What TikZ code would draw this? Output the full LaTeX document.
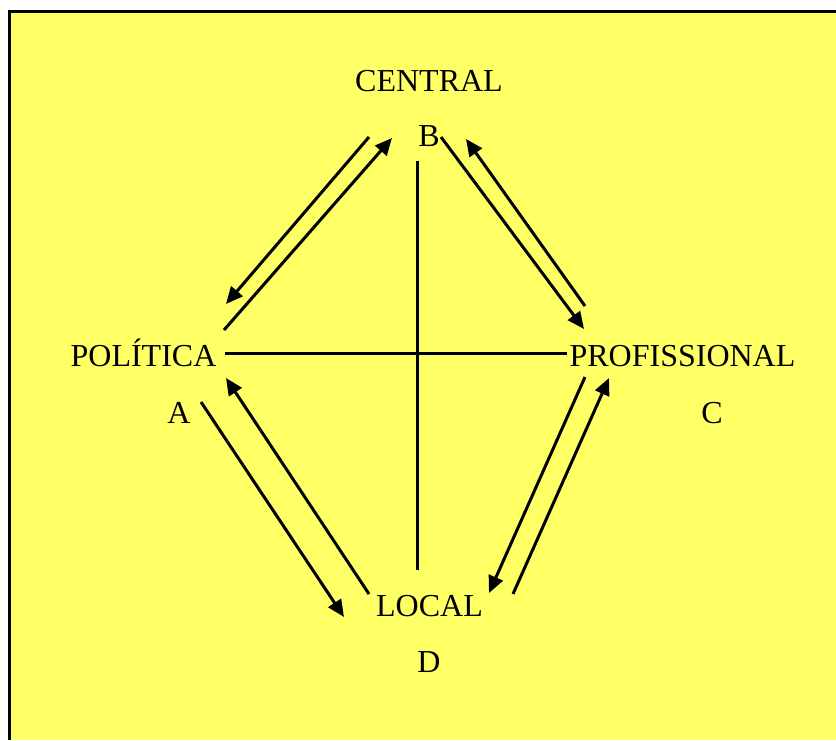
\documentclass[tikz,border=0pt]{standalone}
\usepackage{fontspec}
\setmainfont{Liberation Serif}
\usetikzlibrary{arrows.meta}
\definecolor{BackClr}{rgb}{1,1,0.4}
\tikzset{
  lbl/.style={anchor=base,inner sep=0pt,font=\fontsize{16}{19}\selectfont},
  link/.style={line width=1.5pt},
  flow/.style={line width=1.5pt,-{Triangle[length=8.5pt,width=7.5pt]}}
}

\begin{document}
\begin{tikzpicture}[x=0.5pt,y=-0.5pt]
\useasboundingbox (0,0) rectangle (836,740);
\fill[BackClr] (8,10) rectangle (836,740);
\draw[line width=1.5pt] (9.5,740) -- (9.5,11.5) -- (836,11.5);

\node[lbl] (central) at (429,91) {CENTRAL};
\node[lbl] (b) at (429,146) {B};
\node[lbl] (politica) at (143.5,366) {POLÍTICA};
\node[lbl] (a) at (179,423) {A};
\node[lbl] (profissional) at (682.5,366) {PROFISSIONAL};
\node[lbl] (c) at (712,423) {C};
\node[lbl] (local) at (429.5,616) {LOCAL};
\node[lbl] (d) at (429,672) {D};

\coordinate (h1) at (225,353);
\coordinate (h2) at (567,353);
\coordinate (v1) at (417,161);
\coordinate (v2) at (417,570);

\coordinate (ab1) at (224,330);
\coordinate (ab2) at (392,138);
\coordinate (ba1) at (369,137);
\coordinate (ba2) at (226,304);
\coordinate (bc1) at (441,137);
\coordinate (bc2) at (584,329);
\coordinate (cb1) at (585,306);
\coordinate (cb2) at (466,139);
\coordinate (ad1) at (201,402);
\coordinate (ad2) at (344,617);
\coordinate (da1) at (369,594);
\coordinate (da2) at (226,378);
\coordinate (cd1) at (585,377);
\coordinate (cd2) at (489,593);
\coordinate (dc1) at (513,594);
\coordinate (dc2) at (609,378);

\draw[link] (h1) -- (h2);
\draw[link] (v1) -- (v2);

\draw[flow] (ab1) -- (ab2);
\draw[flow] (ba1) -- (ba2);
\draw[flow] (bc1) -- (bc2);
\draw[flow] (cb1) -- (cb2);
\draw[flow] (ad1) -- (ad2);
\draw[flow] (da1) -- (da2);
\draw[flow] (cd1) -- (cd2);
\draw[flow] (dc1) -- (dc2);

\end{tikzpicture}
\end{document}
